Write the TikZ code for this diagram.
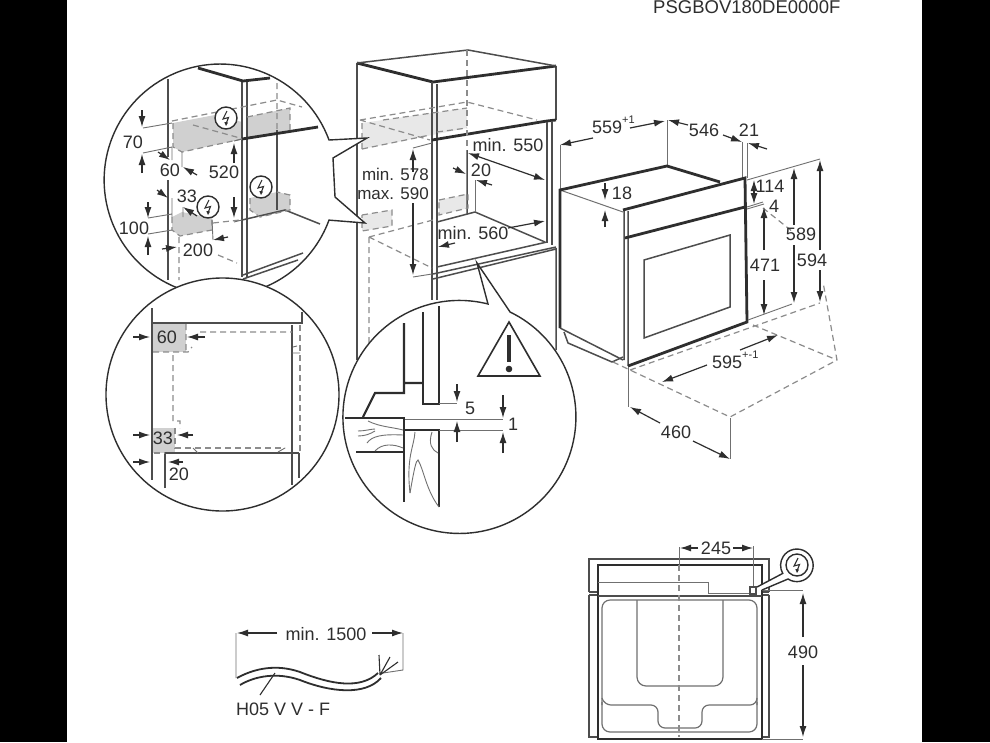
\documentclass[tikz,border=0pt]{standalone}
\usepackage{fontspec}
\setmainfont{Liberation Sans}
\usetikzlibrary{arrows.meta}
\definecolor{inkc}{HTML}{2E2E2E}
\definecolor{thinc}{HTML}{707070}
\definecolor{dashc}{HTML}{8C8C8C}
\definecolor{boxc}{HTML}{D0D0D0}
\definecolor{paleboxc}{HTML}{E8E8E8}
\tikzset{
  dimtext/.style={inner sep=0pt,text=inkc,font=\fontsize{18}{20}\selectfont},
  dimarrow/.style={-{Latex[length=11pt,width=7pt]},line width=1.2pt,draw=inkc},
  bothdim/.style={{Latex[length=11pt,width=7pt]}-{Latex[length=11pt,width=7pt]},line width=1.2pt,draw=inkc},
  extline/.style={line width=.9pt,draw=thinc},
  dashline/.style={line width=1.2pt,draw=dashc,dash pattern=on 6pt off 4pt},
  wall/.style={line width=1.5pt,draw=inkc!85},
  heavy/.style={line width=2.8pt,draw=inkc},
  grain/.style={line width=.9pt,draw=thinc},
  bubble/.style={line width=1.4pt,draw=inkc,fill=white},
  boltmark/.pic={
    \draw[bubble] (0,0) circle[radius=11pt];
    \draw[line width=1.1pt,draw=inkc] (1,-7) -- (-3,1) -- (2.5,-.5) -- (0,6);
    \fill[inkc] (0,8) -- (-1.7,4) -- (2,4.6) -- cycle;
  }
}
\newcommand{\upmark}[1]{\raisebox{1.05ex}{\fontsize{11}{11}\selectfont #1}}
\begin{document}
\begin{tikzpicture}[x=1pt,y=-1pt]
\useasboundingbox (0,0) rectangle (990,742);
\fill[black] (0,0) rectangle (990,742);
\fill[white] (67,0) rectangle (922,742);
\node[dimtext,anchor=base west,font=\fontsize{18.5}{20}\selectfont] (codetext) at (653,13) {PSGBOV180DE0000F};
% cabinet
\fill[paleboxc] (362,123) -- (383,120) -- (467,108) -- (467,128) -- (362,149) -- cycle;
\fill[paleboxc] (362,215) -- (392,210) -- (392,226) -- (362,231) -- cycle;
\fill[paleboxc] (439,200) -- (468,194) -- (468,208) -- (439,215) -- cycle;
\draw[wall] (357,63) -- (357,360) (556,66) -- (556,120);
\draw[heavy] (357,63) -- (433,82) -- (556,66);
\draw[wall] (357,63) -- (468,50) -- (556,66);
\draw[wall] (432,82) -- (432,300) (437,84) -- (437,300);
\draw[heavy] (432,140) -- (547,121) -- (556,120);
\draw[wall] (547,122) -- (547,243) (552,121) -- (552,245);
\draw[wall] (433,274) -- (556,247) (433,279) -- (556,249) (437,267) -- (547,242) (556,248) -- (556,350);
\draw[wall] (467,150) -- (467,213) (475,212) -- (545,242) (475,212) -- (437,222);
\draw[extline] (475,180) -- (475,212);
\draw[dashline] (467,50) -- (467,150);
\draw[dashline] (360,120) -- (467,102) -- (537,120) (360,120) -- (430,140) (362,149) -- (430,135) (437,132) -- (467,128);
\draw[dashline] (383,120) -- (467,108) (362,123) -- (362,149);
\draw[dashline] (362,215) -- (392,210) -- (392,226) -- (362,231) -- cycle;
\draw[dashline] (439,200) -- (468,194) -- (468,208) -- (439,215) -- cycle;
\draw[dashline] (369,237) -- (433,220) (369,237) -- (432,268) (369,237) -- (369,345);
\draw[extline] (413,148) -- (432,143) (413,277) -- (432,274);
\node[dimtext,align=right,anchor=east,font=\fontsize{17}{19}\selectfont] (minmaxtext) at (429,184) {min. 578\\max. 590};
\node[dimtext] (depthtext) at (508,145) {min. 550};
\node[dimtext] (gaptext) at (481,170) {20};
\node[dimtext] (widthtext) at (473,233) {min. 560};
\foreach \xa/\ya/\xb/\yb in {413/172/413/149,413/203/413/275,453/168/466/174,492/185/476/180,455/243/438/247,508/228/545/221}
  \draw[dimarrow] (\xa,\ya) -- (\xb,\yb);
\draw[bothdim] (468,153) -- (545,180);
% oven
\draw[line width=1pt,draw=thinc] (560,190) -- (623,212);
\draw[extline] (560,145) -- (560,190) (667,120) -- (667,166) (742,142) -- (742,178) (747,143) -- (747,178);
\draw[heavy] (720,182) -- (667,166) -- (560,190) -- (560,328);
\draw[wall] (560,328) -- (623,360) (624,210) -- (624,360) (628,211) -- (628,366);
\draw[wall] (564,332) -- (568,343) -- (612,362) -- (623,357);
\draw[heavy] (623,210) -- (745,178) -- (747,322) -- (628,366);
\draw[heavy] (625,238) -- (745,207);
\draw[wall] (644,260) -- (730,235) -- (730,307) -- (644,338) -- cycle;
\draw[extline] (747,180) -- (820,159) (747,207) -- (763,202) (747,209) -- (764,204) (748,320) -- (792,304);
\draw[extline] (628,367) -- (628,407) (730,418) -- (730,459);
\draw[dashline] (630,370) -- (820,303) (613,362) -- (730,417) -- (837,360) -- (823,282) (753,325) -- (837,360) (763,208) -- (793,232);
\node[dimtext,anchor=base west] (t559) at (592,133) {559\upmark{+1}};
\node[dimtext] (t546) at (704,130) {546};
\node[dimtext] (t21) at (749,130) {21};
\node[dimtext] (t18) at (622,193) {18};
\node[dimtext] (t114) at (770,186) {114};
\node[dimtext] (t4) at (774,206) {4};
\node[dimtext] (t471) at (765,265) {471};
\node[dimtext] (t589) at (801,234) {589};
\node[dimtext] (t594) at (812,260) {594};
\node[dimtext,anchor=base west] (t595) at (712,368) {595\upmark{+-1}};
\node[dimtext] (t460) at (676,432) {460};
\foreach \xa/\ya/\xb/\yb in {593/138/560/145,630/128/665/121,688/125/668/120,723/135/742/142,767/149/748/143,
    605/183/605/200,605/227/605/210,764/250/764/207,764/280/764/315,794/225/794/168,794/245/794/303,
    820/250/820/160,820/270/820/302,707/365/662/382,740/350/778/335,660/423/630/407,693/441/730/459}
  \draw[dimarrow] (\xa,\ya) -- (\xb,\yb);
\draw[bothdim] (754,180) -- (754,204);
% detail circle, top
\draw[bubble] (329,140) arc[start angle=20.2,end angle=339.8,radius=116pt]
  -- (365,223) -- (335,197) -- (333,158) -- (367,138) -- cycle;
\fill[boxc] (173,123) -- (173,147) -- (182,152) -- (242,139) -- (242,122) -- (215,115) -- cycle;
\fill[boxc] (247,117) -- (290,108) -- (290,130) -- (247,139) -- cycle;
\fill[boxc] (172,217) -- (172,230) -- (180,236) -- (212,230) -- (212,218) -- (182,212) -- cycle;
\fill[boxc] (250,198) -- (250,210) -- (260,217) -- (290,210) -- (290,195) -- (277,192) -- cycle;
\draw[wall] (168,79) -- (168,157) (168,180) -- (168,280) (242,81) -- (242,277) (247,82) -- (247,277) (277,130) -- (277,210);
\draw[heavy] (198,68) -- (243,81) -- (270,78) (242,139) -- (318,127);
\draw[wall] (242,220) -- (285,210) -- (320,224) (243,275) -- (303,253) (243,279) -- (298,260);
\draw[dashline] (277,83) -- (277,130) (172,121) -- (277,100) -- (302,107) (193,125) -- (240,138) (173,123) -- (173,147) -- (182,152) -- (242,139);
\draw[dashline] (247,117) -- (290,108) -- (290,130) (172,217) -- (172,230) -- (180,236) -- (212,230) -- (212,218);
\draw[dashline] (250,198) -- (250,210) -- (260,217) -- (290,210) -- (290,195) -- (277,192) (213,223) -- (240,220) (218,255) -- (237,263) (179,237) -- (179,280);
\draw[extline] (143,128) -- (172,123) (143,153) -- (172,147) (182,152) -- (182,167) (234,141) -- (242,139) (234,222) -- (242,220) (183,207) -- (183,217) (148,218) -- (172,214) (148,234) -- (172,230) (212,220) -- (213,240) (172,147) -- (172,160) (172,198) -- (172,217);
\node[dimtext] (t70) at (133,142) {70};
\node[dimtext] (t60) at (170,170) {60};
\node[dimtext] (t520) at (224,172) {520};
\node[dimtext] (t33) at (187,196) {33};
\node[dimtext] (t100) at (134,228) {100};
\node[dimtext] (t200) at (198,250) {200};
\foreach \xa/\ya/\xb/\yb in {142/110/142/127,142/173/142/154,158/152/170/160,197/175/183/167,234/163/234/143,234/197/234/218,
    157/190/168/198,197/216/183/207,148/202/148/218,148/255/148/236,162/249/177/247,228/237/213/240}
  \draw[dimarrow] (\xa,\ya) -- (\xb,\yb);
\pic at (226,118) {boltmark};
\pic at (208,207) {boltmark};
\pic at (261,187) {boltmark};
% detail circle, left
\draw[bubble] (222.5,394.5) circle[radius=116.5pt];
\fill[boxc] (152,324) rectangle (186,352);
\fill[boxc] (152,428) rectangle (175,453);
\draw[wall] (152,308) -- (152,480) (152,323) -- (302,323) -- (302,312) (292,325) -- (292,485);
\draw[wall] (299,453) -- (299,478) (165,488) -- (165,453) -- (299,453);
\draw[extline] (292,353) -- (300,353) (293,347) -- (297,346) (193,448) -- (198,453) (278,452) -- (285,448);
\draw[dashline] (186,324) -- (186,352) (153,352) -- (188,352) -- (192,347) (200,332) -- (292,332) (173,355) -- (173,421) -- (180,421) -- (180,428);
\draw[dashline] (175,428) -- (175,448) -- (285,448) (300,325) -- (300,452) (154,453) -- (165,453);
\node[dimtext] (t60b) at (167,337) {60};
\node[dimtext] (t33b) at (163,438) {33};
\node[dimtext] (t20b) at (179,474) {20};
\foreach \xa/\ya/\xb/\yb in {133/337/150/337,205/337/187/337,133/435/150/435,193/435/177/435,133/462/150/462,183/462/168/462}
  \draw[dimarrow] (\xa,\ya) -- (\xb,\yb);
% detail circle, rail
\draw[bubble] (477,263) -- (488,304) arc[start angle=75.8,end angle=424.2,radius=116.5pt] -- cycle;
\draw[heavy] (423,312) -- (423,404) -- (439,404) -- (439,306);
\draw[line width=2.1pt,draw=inkc] (404,323) -- (404,393) -- (375,393) -- (363,417) (404,383) -- (422,383);
\draw[heavy] (345,418) -- (404,418) -- (404,502) (404,430) -- (439,430) -- (439,507) (356,452) -- (404,452);
\draw[grain] (368,421) .. controls (380,427) and (392,427) .. (403,430);
\draw[grain] (358,431) .. controls (365,431) and (371,429) .. (375,429) (358,436) .. controls (365,436) and (370,434) .. (375,431);
\draw[grain] (367,443) .. controls (372,436) and (382,434) .. (403,435);
\draw[grain] (375,451) .. controls (382,443) and (394,444) .. (403,448);
\draw[grain] (415,432) .. controls (414,447) and (406,457) .. (410,493);
\draw[grain] (432,432) .. controls (428,444) and (432,450) .. (438,453);
\draw[grain] (410,493) .. controls (414,470) and (416,460) .. (418,460) .. controls (424,470) and (426,490) .. (439,507);
\draw[extline] (439,403) -- (457,403) (405,419) -- (503,419) (439,430) -- (503,430);
\node[dimtext] (t5) at (470,408) {5};
\node[dimtext] (t1) at (513,424) {1};
\foreach \xa/\ya/\xb/\yb in {457/384/457/402,457/442/457/421,503/395/503/418,503/453/503/432}
  \draw[dimarrow] (\xa,\ya) -- (\xb,\yb);
\draw[line width=1.6pt,draw=inkc,line join=miter] (509,322) -- (478,376) -- (540,376) -- cycle;
\draw[line width=3.4pt,draw=inkc] (509,335) -- (509,362);
\fill[inkc] (509,369) circle[radius=3.3pt];
% cable
\draw[extline] (236,633) -- (236,678) (403,633) -- (403,670) -- (383,673);
\draw[line width=1.8pt,draw=inkc] (237,678) .. controls (255,668) and (277,664) .. (300,672) .. controls (330,684) and (360,690) .. (378,673);
\draw[line width=1.8pt,draw=inkc] (240,685) .. controls (255,676) and (277,672) .. (300,680) .. controls (330,692) and (365,696) .. (381,678);
\draw[line width=1.1pt,draw=inkc] (380,675) -- (379,655) (380,675) -- (390,657) (380,675) -- (398,662);
\draw[line width=1.1pt,draw=inkc] (275,673) -- (260,695);
\node[dimtext] (cablelen) at (326,634) {min. 1500};
\node[dimtext,anchor=west] (cabletype) at (236,709) {H05 V V - F};
\foreach \xa/\ya/\xb/\yb in {277/633/237/633,372/633/403/633}
  \draw[dimarrow] (\xa,\ya) -- (\xb,\yb);
% rear view
\draw[wall] (589,592) -- (589,559) -- (769,559) -- (769,592) (589,595) -- (589,737) -- (598,737) (769,595) -- (769,737) -- (762,737);
\draw[wall] (589,592) -- (598,592) (589,595) -- (598,595) (762,592) -- (769,592) (762,595) -- (769,595);
\draw[line width=1.8pt,draw=inkc] (598,565) rectangle (762,739);
\draw[extline] (598,582) -- (708,582) -- (708,593) -- (755,593);
\draw[wall] (598,596) -- (762,596);
\draw[extline,line width=1.2pt,rounded corners=8pt] (602,705) -- (602,600) -- (757,600) -- (757,705);
\draw[extline,line width=1.2pt,rounded corners=8pt] (602,702) -- (602,732) -- (757,732) -- (757,702);
\draw[extline,line width=1.2pt,rounded corners=7pt] (602,698) -- (604,705) -- (658,705) -- (658,728) -- (702,728) -- (702,705) -- (757,705) -- (757,698);
\draw[extline,line width=1.2pt,rounded corners=9pt] (637,600) -- (637,686) -- (723,686) -- (723,600);
\draw[dashline] (679,565) -- (679,737);
\draw[extline] (679,547) -- (679,565) (753,546) -- (753,588);
\draw[extline] (762,590) -- (803,590) (762,739) -- (803,739);
\draw[wall] (750,587) rectangle (756,594);
\draw[bubble] (762,590) -- (788,579) arc[start angle=237,end angle=569.7,radius=16.3pt] -- (757,587);
\pic at (797,565) {boltmark};
\node[dimtext] (t245) at (716,548) {245};
\node[dimtext] (t490) at (803,652) {490};
\foreach \xa/\ya/\xb/\yb in {698/548/680/548,733/548/753/548,803/637/803/593,803/665/803/737}
  \draw[dimarrow] (\xa,\ya) -- (\xb,\yb);
\end{tikzpicture}
\end{document}
